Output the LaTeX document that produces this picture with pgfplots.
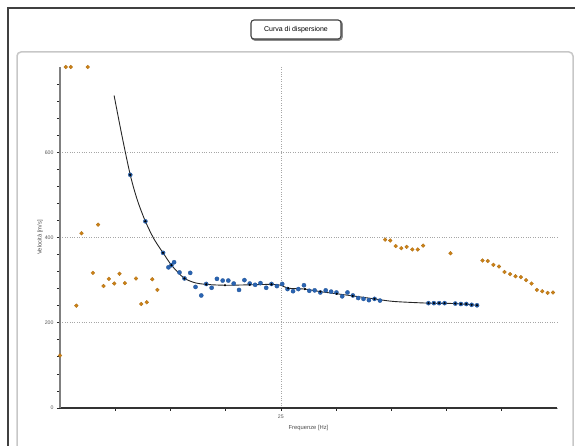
\documentclass[border=0pt]{standalone}
\usepackage{pgfplots}
\pgfplotsset{compat=1.18}
\usepackage{pgfplotstable}
\usepackage{fontspec}
\setmainfont{Liberation Sans}
\definecolor{orangept}{RGB}{205,130,22}
\definecolor{bluept}{RGB}{42,100,178}

\pgfplotstableread{
x y
5.52 800
5.97 800
7.52 800
5.0 123
6.48 240
6.94 410
7.97 317
8.45 430
8.94 286
9.42 303
9.91 292
10.39 315
10.88 293
11.88 304
12.36 244
12.85 248
13.36 302
13.82 277
34.43 395
34.90 393
35.39 380
35.90 375
36.39 378
36.90 372
37.39 372
37.88 381
40.36 363
43.25 346
43.73 345
44.24 336
44.75 332
45.24 319
45.76 314
46.24 309
46.73 307
47.21 300
47.70 292
48.18 277
48.66 274
49.15 270
49.64 271
}\orangedata

\pgfplotstableread{
x y
11.36 547
12.73 438
14.33 364
14.82 330
15.09 335
15.33 342
15.82 318
16.27 304
16.79 317
17.27 284
17.79 264
18.24 291
18.73 282
19.21 303
19.73 299
20.24 299
20.73 292
21.21 277
21.70 300
22.18 292
22.67 289
23.15 293
23.67 282
24.15 291
24.64 286
25.12 291
25.60 279
26.10 274
26.58 279
27.09 288
27.57 275
28.06 276
28.57 271
29.06 276
29.55 273
30.03 271
30.55 262
31.03 271
31.52 264
32.00 258
32.48 256
32.97 253
33.48 256
33.97 252
38.36 246
38.85 246
39.33 246
39.82 246
40.79 245
41.30 244
41.79 244
42.27 242
42.76 241
}\bluedata

\pgfplotstableread{
x y
9.90 733
10.60 640
11.36 547
12.00 488
12.73 438
13.50 397
14.33 364
15.09 335
15.70 318
16.27 304
17.20 294
18.24 290
19.94 288
22.18 289
24.15 290
25.00 288
25.66 281
27.18 279
28.57 273
30.06 268
31.50 263
33.48 256
35.20 250
38.36 246
40.79 245
42.76 241
}\curvedata

\pgfplotstableread{
x y
11.36 547
12.73 438
14.33 364
15.09 335
16.27 304
18.24 290
19.94 288
22.18 289
24.15 290
25.66 281
27.18 279
28.57 273
30.06 268
31.50 263
33.48 256
38.36 246
38.85 246
39.33 246
39.82 246
40.79 245
41.30 244
41.79 244
42.27 242
42.76 241
}\curvemarks

\begin{document}
\begin{tikzpicture}
\useasboundingbox (0,0) rectangle (575pt,446pt);
% outer frame
\draw[black!75, line width=1.8pt] (8pt,-5pt) -- (8pt,438pt) -- (585pt,438pt);
% inner panel
\draw[black!22, line width=1.5pt, rounded corners=4pt] (17pt,-10pt) rectangle (573pt,394pt);
% title box
\draw[black!45, line width=1.6pt, rounded corners=3pt] (252pt,406pt) rectangle (342pt,425pt);
\draw[black!75, line width=1.1pt, rounded corners=3pt, fill=white] (251pt,407pt) rectangle (341pt,426pt);
\node[font=\fontsize{7}{8}\selectfont] at (296pt,416.5pt) {Curva di dispersione};

\begin{axis}[
  at={(60pt,38pt)}, anchor=south west,
  scale only axis, width=497pt, height=341pt,
  xmin=5, xmax=50, ymin=0, ymax=800,
  clip=false,
  axis x line=bottom, axis y line=left,
  axis line style={-},
  x axis line style={black!80, line width=1.2pt, -},
  y axis line style={black!50, line width=2.2pt, -},
  xtick={10,15,20,30,35,40,45}, xticklabels={},
  extra x ticks={25}, extra x tick labels={25},
  extra x tick style={grid=major},
  ytick={0,200,400,600},
  minor ytick={40,80,120,160,240,280,320,360,440,480,520,560,640,680,720,760},
  ymajorgrids,
  major grid style={black!35, dotted, line width=0.7pt},
  tick style={black!85, line width=0.7pt},
  major tick length=3pt, minor tick length=3pt,
  tick align=outside,
  ticklabel style={font=\fontsize{5.2}{6}\selectfont, text=black!65},
  /pgf/number format/assume math mode=true,
  xlabel={Frequenze [Hz]}, ylabel={Velocità [m/s]},
  label style={font=\fontsize{5.8}{7}\selectfont, text=black!70},
  xlabel style={yshift=3pt},
  ylabel style={yshift=-5pt},
]
\addplot[only marks, mark=*, mark size=1.9pt, color=orangept, mark options={fill=orangept, draw=orangept!85!black, line width=0.3pt}] table {\orangedata};
\addplot[black!85, line width=0.9pt, smooth, tension=0.5] table {\curvedata};
\addplot[only marks, mark=*, mark size=2.1pt, color=bluept, mark options={fill=bluept, draw=bluept!85!black, line width=0.3pt}] table {\bluedata};
\addplot[only marks, mark=*, mark size=0.9pt, color=black, mark options={fill=black}] table {\curvemarks};
\end{axis}
\end{tikzpicture}
\end{document}
